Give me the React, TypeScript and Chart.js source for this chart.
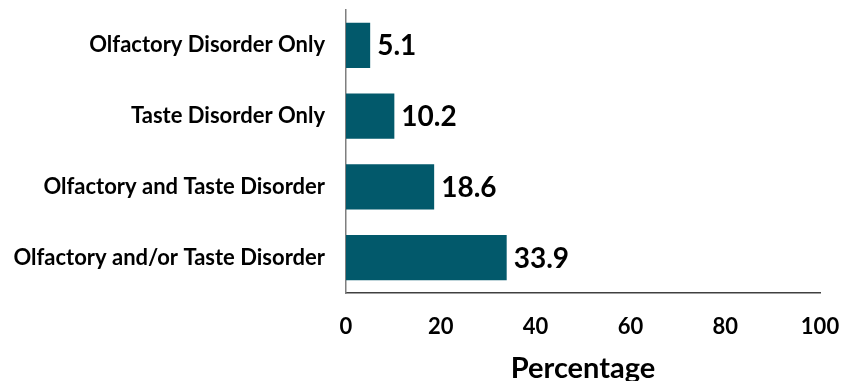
import React, { useEffect, useRef } from "react";
import { Chart, registerables } from "chart.js";

Chart.register(...registerables);

const categories = [
  "Olfactory Disorder Only",
  "Taste Disorder Only",
  "Olfactory and Taste Disorder",
  "Olfactory and/or Taste Disorder",
];
const values = [5.1, 10.2, 18.6, 33.9];
const xTicks = [0, 20, 40, 60, 80, 100];
const axisTitle = "Percentage";

const FONT = "Lato, 'Open Sans', sans-serif";
const BAR_COLOR = "#02596B";

const valueLabels = {
  id: "valueLabels",
  afterDatasetsDraw(chart: any) {
    const ctx = chart.ctx;
    const meta = chart.getDatasetMeta(0);
    ctx.save();
    ctx.font = `bold 28px ${FONT}`;
    ctx.fillStyle = "#000";
    ctx.textAlign = "left";
    ctx.textBaseline = "middle";
    meta.data.forEach((bar: any, i: number) => {
      ctx.fillText(String(values[i].toFixed(1)), bar.x + 7, bar.y + 1);
    });
    ctx.restore();
  },
};

export default function App() {
  const ref = useRef<HTMLCanvasElement | null>(null);

  useEffect(() => {
    document.body.style.margin = "0";
    document.body.style.overflow = "hidden";
    const chart = new Chart(ref.current!, {
      type: "bar",
      data: {
        labels: categories,
        datasets: [
          {
            data: values,
            backgroundColor: BAR_COLOR,
            barPercentage: 0.64,
            categoryPercentage: 1,
          },
        ],
      },
      plugins: [valueLabels],
      options: {
        indexAxis: "y",
        animation: false,
        responsive: false,
        maintainAspectRatio: false,
        layout: { padding: { left: 0, right: 22, top: 10, bottom: 12 } },
        plugins: { legend: { display: false }, tooltip: { enabled: false } },
        scales: {
          x: {
            min: 0,
            max: 100,
            afterBuildTicks: (s: any) => {
              s.ticks = xTicks.map((v) => ({ value: v }));
            },
            afterFit: (s: any) => {
              s.height = 90;
              s.paddingLeft = 0;
              s.paddingRight = 0;
            },
            grid: { display: false, drawTicks: false },
            border: { display: true, color: "#404040", width: 1.5 },
            ticks: {
              color: "#000",
              padding: 21,
              font: { family: FONT, size: 22, weight: "bold" },
            },
            title: {
              display: true,
              text: axisTitle,
              color: "#000",
              padding: { top: 0, bottom: 0 },
              font: { family: FONT, size: 29, weight: "bold", lineHeight: 1 },
            },
          },
          y: {
            afterFit: (s: any) => {
              s.width = 346;
              s.paddingTop = 0;
              s.paddingBottom = 0;
            },
            grid: { display: false, drawTicks: false },
            border: { display: true, color: "#7f7f7f", width: 1.5 },
            ticks: {
              color: "#000",
              padding: 21,
              font: { family: FONT, size: 22, weight: "bold" },
            },
          },
        },
      },
    } as any);
    return () => chart.destroy();
  }, []);

  return (
    <div style={{ position: "fixed", left: 0, top: 0, width: 842, height: 381, overflow: "hidden" }}>
      <canvas ref={ref} width={842} height={395} style={{ width: 842, height: 395, display: "block" }} />
    </div>
  );
}
